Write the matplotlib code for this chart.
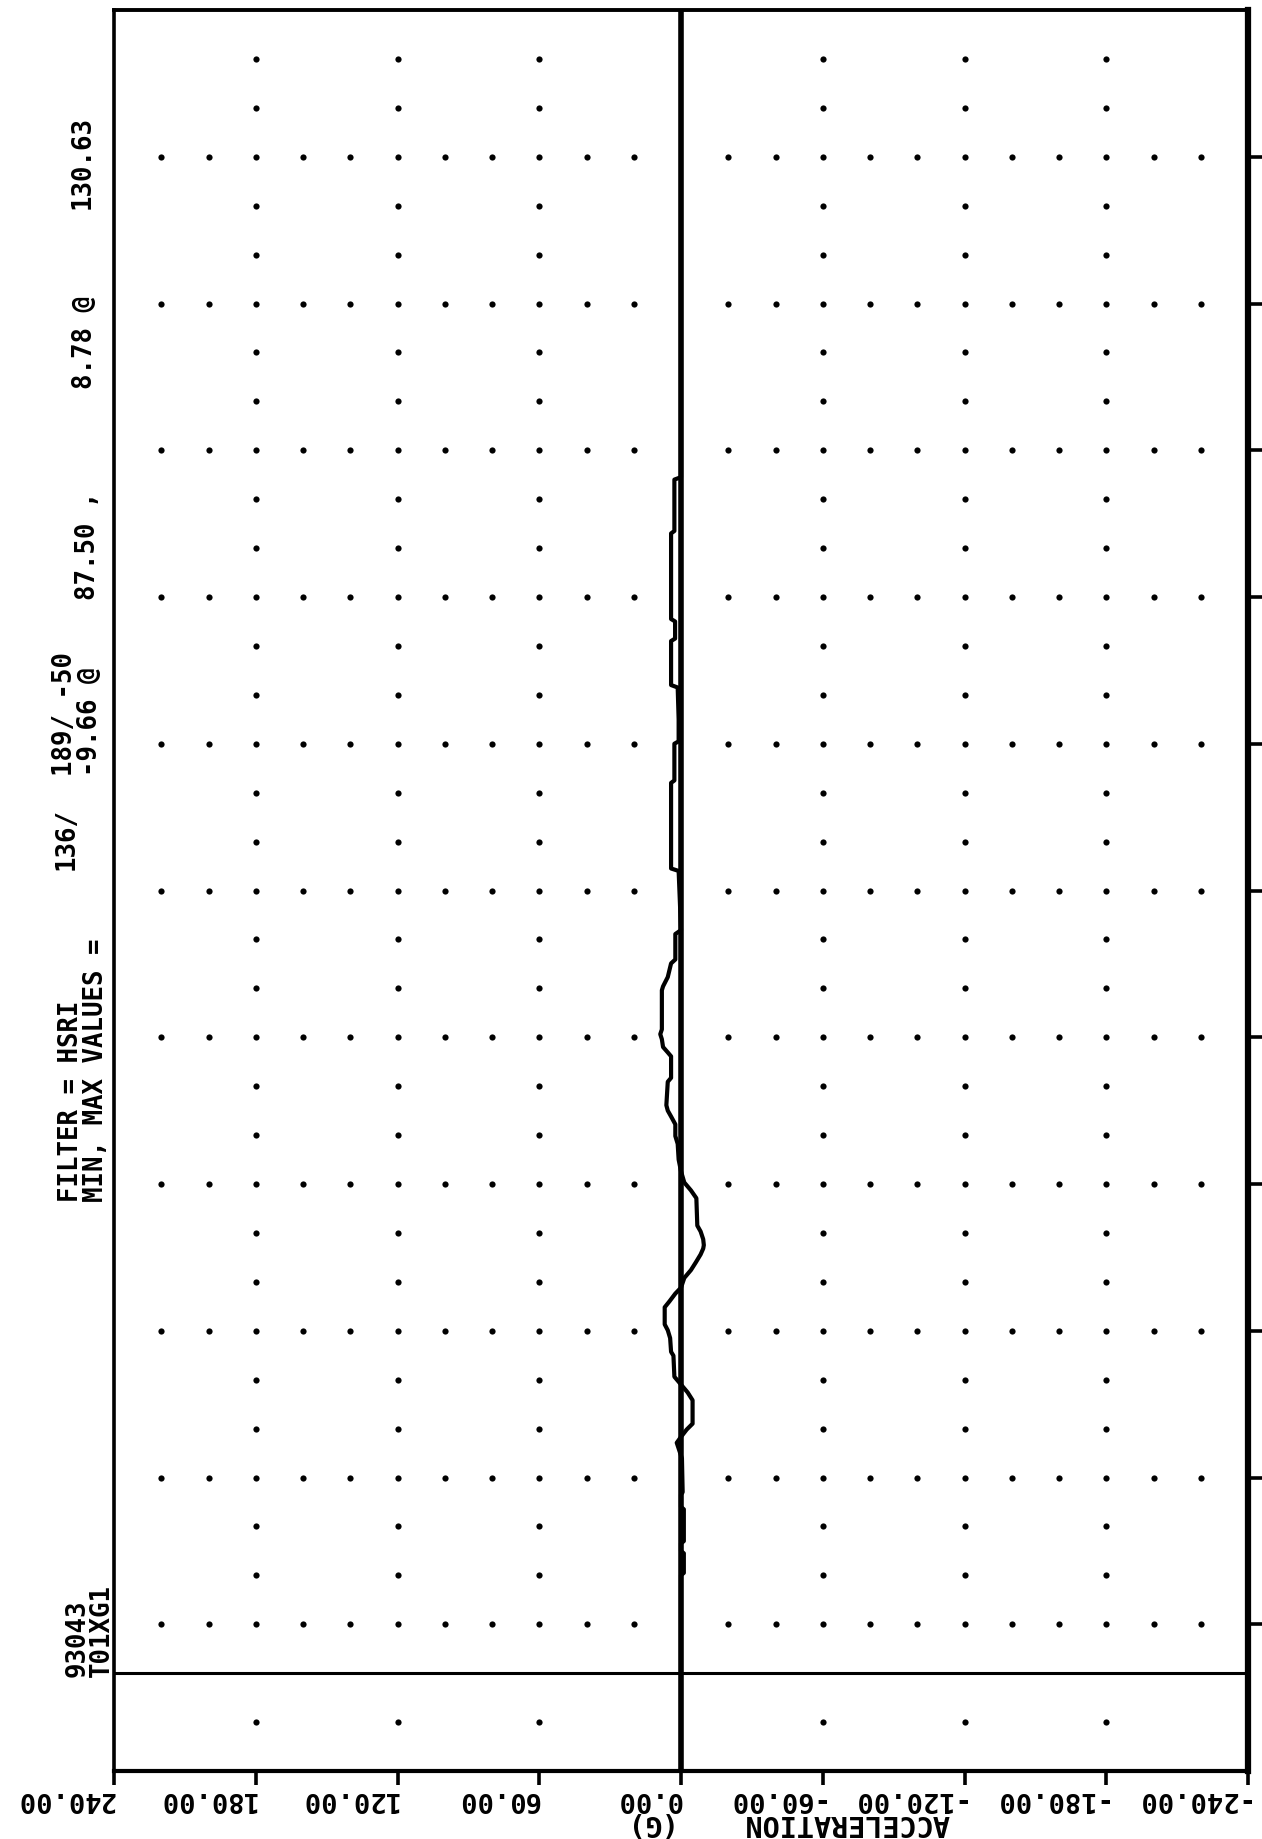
import numpy as np
import matplotlib.pyplot as plt
from matplotlib.transforms import ScaledTranslation

# acceleration trace (time in ms, acceleration in G)
time_ms = [-20, 20, 20.5, 24.5, 25, 26.5, 27, 33.5, 34, 36.5, 37, 43.9, 45.5, 47.1,
           48.3, 49.8, 51.0, 55.8, 57.4, 58.6, 59.8, 60.6, 64.9, 65.7, 68.5, 70.1,
           71.3, 74.8, 76.0, 77.6, 78.8, 80.8, 82.4, 84.0, 85.6, 86.8, 87.5, 88.7,
           90.3, 91.5, 97.1, 98.7, 100.3, 102.6, 105.0, 108.2, 109.8, 112.2, 113.8,
           115.0, 116.1, 120.9, 121.7, 126.1, 126.9, 128.0, 129.6, 130.63, 131.6,
           139.6, 140.4, 142.3, 145.1, 145.9, 151.1, 151.9, 158, 164, 164.5, 182,
           182.5, 190, 190.5, 195, 201.5, 202, 211, 211.5, 215, 215.5, 233, 233.5,
           244, 244.5, 340]
accel_g = [0, 0, -1.2, -1.2, 0, 0, -1.2, -1.2, 0, 0, -0.7, -0.4, 0.7, 1.8,
           0, -2.4, -4.9, -4.9, -2.8, -0.7, 1.4, 2.8, 3.2, 4.2, 4.6, 5.6,
           6.9, 6.9, 4.9, 2.4, 0, -1.4, -4.2, -6.3, -8.3, -9.4, -9.66, -9.4,
           -8.3, -6.9, -6.5, -4.2, -1.4, 0, 1.0, 1.4, 2.4, 2.4, 4.2,
           5.6, 6.2, 5.6, 4.2, 4.2, 5.6, 7.6, 8.1, 8.78, 8.1,
           8.1, 7.6, 5.6, 4.2, 2.4, 2.4, 0, 0.5, 1.0, 4.2, 4.2,
           2.8, 2.8, 1.0, 1.0, 1.4, 4.2, 4.2, 2.5, 2.5, 4.2, 4.2, 2.8,
           2.8, 0, 0]

g_ticks = [240, 180, 120, 60, 0, -60, -120, -180, -240]
g_labels = ["240.00", "180.00", "120.00", "60.00", "0.00",
            "-60.00", "-120.00", "-180.00", "-240.00"]
time_major = [10, 40, 70, 100, 130, 160, 190, 220, 250, 280, 310]
time_minor = [-10, 20, 30, 50, 60, 80, 90, 110, 120, 140, 150, 170, 180, 200, 210,
              230, 240, 260, 270, 290, 300, 320, 330]
g_dense = [220, 200, 180, 160, 140, 120, 100, 80, 60, 40, 20,
           -20, -40, -60, -80, -100, -120, -140, -160, -180, -200, -220]
g_sparse = [180, 120, 60, -60, -120, -180]

filter_parts = ["FILTER = HSRI", "136/", "189/ -50"]
minmax_parts = ["MIN, MAX VALUES =", "-9.66 @", "87.50 ,", "8.78 @", "130.63"]
test_ids = ["93043", "T01XG1"]

W, H = 1262, 1839
fig = plt.figure(figsize=(W / 100, H / 100), dpi=100)
fig.patch.set_facecolor("white")
ax = fig.add_axes([114 / W, (H - 1771) / H, (1248 - 114) / W, (1771 - 10) / H])
ax.set_xlim(240, -240)
ax.set_ylim(-20, 340)

font = dict(family="DejaVu Sans Mono", weight="bold", color="black")

# dot grid
gx, gy = np.meshgrid(g_dense, time_major)
ax.scatter(gx.ravel(), gy.ravel(), s=20, color="black", lw=0, zorder=2)
gx, gy = np.meshgrid(g_sparse, time_minor)
ax.scatter(gx.ravel(), gy.ravel(), s=20, color="black", lw=0, zorder=2)

# axes lines
ax.axvline(0, color="black", lw=4.0, zorder=3)
ax.axhline(0, color="black", lw=2.2, zorder=3)
ax.plot(accel_g, time_ms, color="black", lw=3.0, zorder=4)

for side, lw in [("left", 2.6), ("top", 2.8), ("bottom", 3.0), ("right", 4.5)]:
    ax.spines[side].set_linewidth(lw)

ax.set_xticks(g_ticks)
ax.set_xticklabels(g_labels, rotation=180, ha="right", va="top", fontsize=19.5, **font)
shift = ScaledTranslation(-0.11, 0, fig.dpi_scale_trans)
for lab, val in zip(ax.get_xticklabels(), g_ticks):
    if val >= 0:
        lab.set_transform(lab.get_transform() + shift)
ax.tick_params(axis="x", direction="out", length=10, width=2.6, pad=0.8)
ax.set_yticks(time_major)
ax.yaxis.tick_right()
ax.set_yticklabels([])
ax.tick_params(axis="y", direction="out", length=10, width=2.6)

ax.text(0.737, -0.0218, "ACCELERATION", transform=ax.transAxes, rotation=180,
        ha="right", va="top", fontsize=20.5, **font)
ax.text(0.489, -0.0218, "(G)", transform=ax.transAxes, rotation=180,
        ha="right", va="top", fontsize=20.5, **font)

# header text, rotated; the scanned text drifts left towards the top
def fy(y):
    return 1 - y / H

def fx(x, y):
    return (x - 0.013 * (1202 - y)) / W

hs = 18.5
col_a, col_b = 71, 96
for txt, y in zip(filter_parts, [1202, 870, 776]):
    fig.text(fx(col_a, y), fy(y), txt, rotation=90, ha="center", va="bottom",
             fontsize=hs, **font)
for txt, y in zip(minmax_parts, [1202, 776, 600, 389, 209]):
    fig.text(fx(col_b, y), fy(y), txt, rotation=90, ha="center", va="bottom",
             fontsize=hs, **font)
for txt, x in zip(test_ids, [col_a, col_b]):
    fig.text(fx(x, 1677), fy(1677), txt, rotation=90, ha="center", va="bottom",
             fontsize=hs, **font)

fig.savefig("out.png", dpi=100)
